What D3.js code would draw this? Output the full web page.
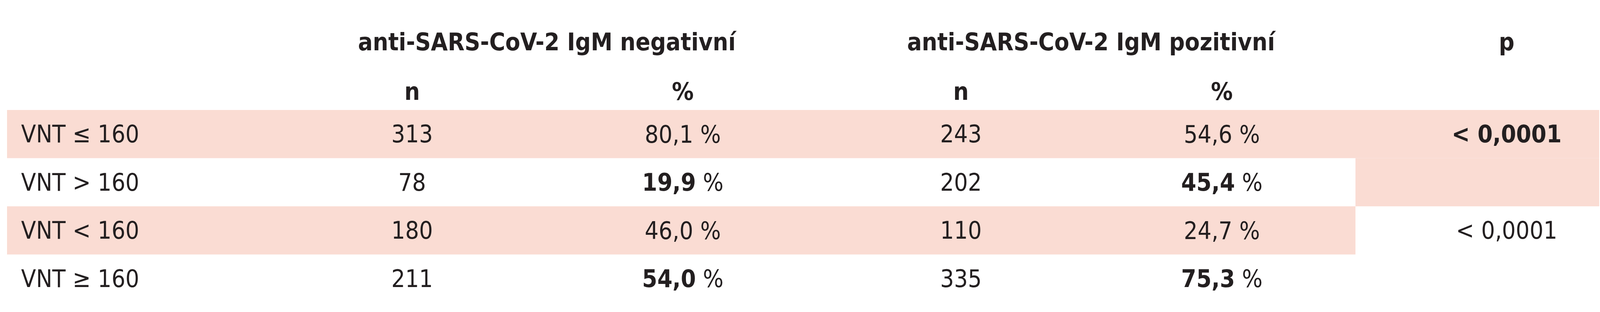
<!DOCTYPE html><html><head><meta charset="utf-8">
<script src="https://cdn.jsdelivr.net/npm/d3@7"></script>
<style>body{margin:0;background:#fff}</style></head><body><svg id="c" width="4214" height="800"></svg>
<script>
const groupHeaders = ["anti-SARS-CoV-2 IgM negativní", "anti-SARS-CoV-2 IgM pozitivní", "p"];
const subHeaders = ["n", "%", "n", "%"];
const rowLabels = ["VNT ≤ 160", "VNT > 160", "VNT < 160", "VNT ≥ 160"];
const negN = [313, 78, 180, 211];
const negPct = ["80,1", "19,9", "46,0", "54,0"];
const posN = [243, 202, 110, 335];
const posPct = ["54,6", "45,4", "24,7", "75,3"];
const pctBold = [false, true, false, true];
const pValues = ["< 0,0001", "", "< 0,0001", ""];
const pBold = [true, false, false, false];

const svg = d3.select("#c");
const font = "'Liberation Sans Narrow','DejaVu Sans Condensed',sans-serif";
const ink = "#231f20", band = "#fadcd3";
const y = d3.scaleBand().domain(d3.range(rowLabels.length)).range([282, 776]);
const cols = ["n1","p1","n2","p2","p"];
const x = d3.scaleOrdinal().domain(cols).range([1055, 1748, 2460, 3128, 3857]);
const gx = d3.scaleOrdinal().domain(groupHeaders).range([1400, 2793, 3857]);
const fs = 62;
const right = 4094, split = 3470;

svg.append("rect").attr("x",18).attr("y",y(0)).attr("width",right-18).attr("height",y.bandwidth()).attr("fill",band);
svg.append("rect").attr("x",18).attr("y",y(2)).attr("width",split-18).attr("height",y.bandwidth()).attr("fill",band);
svg.append("rect").attr("x",split).attr("y",y(1)).attr("width",right-split).attr("height",y.bandwidth()).attr("fill",band);

const T = (xx, yy, s, anchor, bold) => svg.append("text").attr("x",xx).attr("y",yy).attr("text-anchor",anchor)
  .attr("dominant-baseline","central").attr("font-family",font).attr("font-size",fs).attr("fill",ink)
  .attr("font-weight",bold?"bold":"normal").text(s);

groupHeaders.forEach(h => T(gx(h), 107, h, "middle", true));
subHeaders.forEach((h,i) => T(x(cols[i]), 234, h, "middle", true));

rowLabels.forEach((r,i) => {
  const cy = y(i) + y.bandwidth()/2;
  T(54, cy, r, "start", false);
  T(x("n1"), cy, negN[i], "middle", false);
  T(x("n2"), cy, posN[i], "middle", false);
  [["p1",negPct],["p2",posPct]].forEach(([c,arr]) => {
    const t = svg.append("text").attr("x",x(c)).attr("y",cy).attr("text-anchor","middle")
      .attr("dominant-baseline","central").attr("font-family",font).attr("font-size",fs).attr("fill",ink);
    t.append("tspan").attr("font-weight",pctBold[i] ? "bold":"normal").text(arr[i]);
    t.append("tspan").text(" %");
  });
  if (pValues[i]) T(x("p"), cy, pValues[i], "middle", pBold[i]);
});
</script></body></html>
